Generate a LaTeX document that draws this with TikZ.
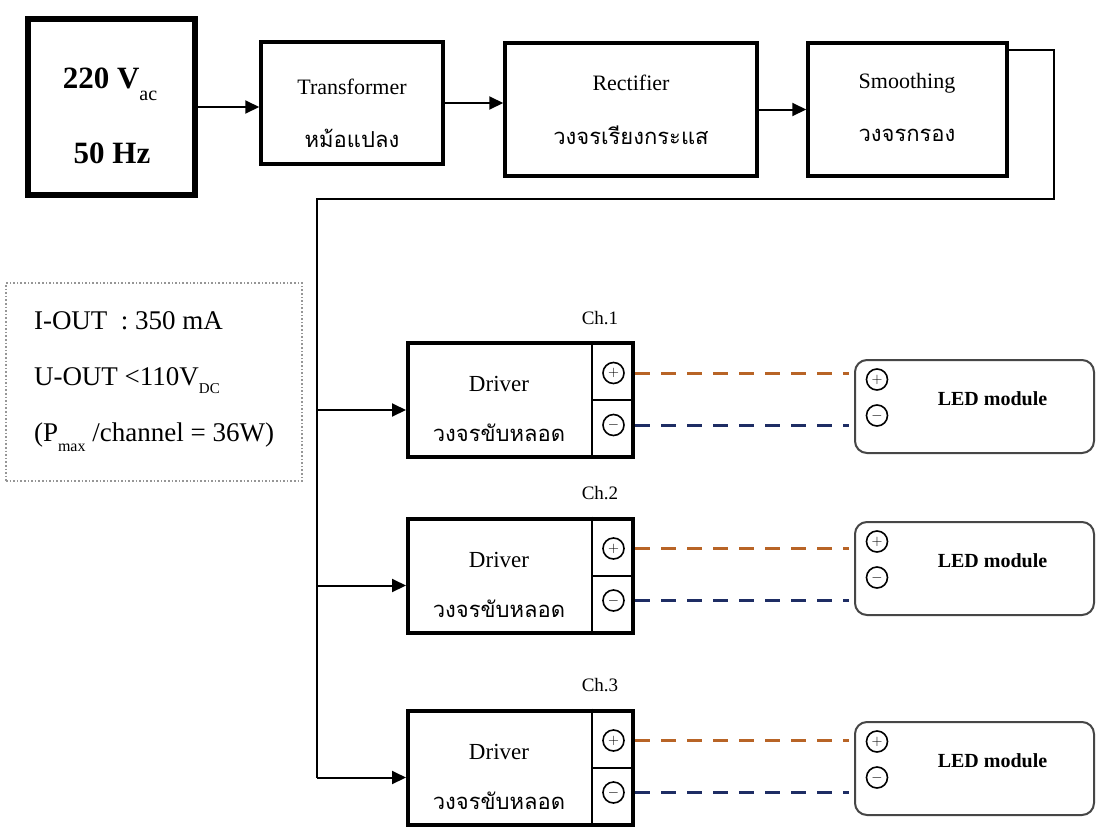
\documentclass[tikz,border=0pt]{standalone}
\usepackage{fontspec}
\setmainfont{Liberation Serif}
\newfontfamily\thaifont[Script=Thai]{Loma}
\usetikzlibrary{arrows.meta,positioning,calc}
\definecolor{poswire}{RGB}{184,100,38}
\definecolor{negwire}{RGB}{30,45,100}
\definecolor{infogray}{RGB}{150,150,150}
\definecolor{ledgray}{RGB}{70,70,70}

\newcommand\srcfont{\fontsize{31}{37}\selectfont\bfseries}
\newcommand\capfont{\fontsize{22}{26}\selectfont}
\newcommand\drvfont{\fontsize{23}{27}\selectfont}
\newcommand\thfont{\thaifont\fontsize{22}{28}\selectfont}
\newcommand\infofont{\fontsize{27}{56}\selectfont}
\newcommand\chfont{\fontsize{19}{22}\selectfont}
\newcommand\ledfont{\fontsize{20}{24}\selectfont\bfseries}
% lowered small index: size, drop, text
\newcommand\lowsub[3]{\raisebox{-#2pt}{\fontsize{#1}{#1}\selectfont\mdseries #3}}

\tikzset{
  srcbox/.style   = {draw, line width=6.5pt, minimum width=167pt, minimum height=176pt},
  stagebox/.style = {draw, line width=3.5pt, inner sep=0pt},
  drvbox/.style   = {draw, line width=4pt, minimum width=225pt, minimum height=114pt},
  ledbox/.style   = {draw=ledgray, line width=2pt, rounded corners=12pt,
                     minimum width=239pt, minimum height=93pt},
  infobox/.style  = {draw=infogray, dotted, line width=1.6pt, minimum width=296pt,
                     minimum height=198pt, align=left},
  pmcirc/.style   = {circle, draw, line width=1.6pt, minimum size=21pt, inner sep=0pt,
                     font=\fontsize{15}{15}\selectfont},
  txt/.style      = {inner sep=0pt},
  flow/.style     = {line width=2pt, -{Triangle[length=14pt,width=13pt]}},
  wire/.style     = {line width=2pt},
  posline/.style  = {draw=poswire, line width=3pt, dash pattern=on 15pt off 11pt,
                     shorten >=5pt},
  negline/.style  = {draw=negwire, line width=3pt, dash pattern=on 15pt off 11pt,
                     shorten >=5pt}
}

\begin{document}
\begin{tikzpicture}[x=1pt, y=-1pt]
  \fill[white] (0,0) rectangle (1097,833);
  \useasboundingbox (0,0) rectangle (1097,833);

  % supply chain
  \node[srcbox] (src) at (111.5,107) {};
  \node[txt, font=\srcfont, anchor=base] (srcV) at (110,88) {220 V\lowsub{20}{12}{ac}};
  \node[txt, font=\srcfont] (srcHz) at (112,153) {50 Hz};

  \node[stagebox, minimum width=182pt, minimum height=122pt] (trans) at (352,103) {};
  \node[txt, font=\capfont] (transEn) at (352,87) {Transformer};
  \node[txt, font=\thfont] (transTh) at (352,138) {หม้อแปลง};

  \node[stagebox, minimum width=252pt, minimum height=133pt] (rect) at (631,109.5) {};
  \node[txt, font=\capfont] (rectEn) at (631,83) {Rectifier};
  \node[txt, font=\thfont] (rectTh) at (631,135) {วงจรเรียงกระแส};

  \node[stagebox, minimum width=199pt, minimum height=133pt] (smooth) at (907.5,109.5) {};
  \node[txt, font=\capfont] (smoothEn) at (907,83) {Smoothing};
  \node[txt, font=\thfont] (smoothTh) at (907,135) {วงจรกรอง};

  \draw[flow] (src.east) -- (src.east -| trans.west);
  \draw[flow] (trans.east) -- (trans.east -| rect.west);
  \draw[flow] (rect.east) -- (rect.east -| smooth.west);

  % ratings
  \node[infobox, font=\infofont] (info) at (154,382)
    {I-OUT\ \ : 350 mA\\U-OUT <110V\lowsub{15}{8}{DC}\\(P\lowsub{16}{10}{max} /channel = 36W)};

  \coordinate (bus) at (317,199);

  % channels
  \foreach \n/\dy/\ly in {1/400/406.5, 2/575.5/568.5, 3/767.5/768.5} {
    \node[drvbox] (drv\n) at (520.5,\dy) {};
    \draw[line width=2pt] ([xshift=-43pt]drv\n.north east) -- ([xshift=-43pt]drv\n.south east);
    \draw[line width=2pt] ([xshift=-43pt]drv\n.east) -- (drv\n.east);
    \node[txt, font=\chfont] (ch\n) at ([xshift=-35pt,yshift=23pt]drv\n.north east) {Ch.\n};
    \node[txt, font=\drvfont] (drvEn\n) at ([xshift=-21.5pt,yshift=16pt]drv\n.center) {Driver};
    \node[txt, font=\thfont] (drvTh\n) at ([xshift=-21.5pt,yshift=-33pt]drv\n.center) {วงจรขับหลอด};
    \node[pmcirc] (pl\n) at ([xshift=-21.5pt,yshift=27pt]drv\n.east) {$+$};
    \node[pmcirc] (mi\n) at ([xshift=-21.5pt,yshift=-25pt]drv\n.east) {$-$};

    \node[ledbox] (led\n) at (974.5,\ly) {};
    \node[pmcirc] (lp\n) at ([xshift=23pt,yshift=27pt]led\n.west) {$+$};
    \node[pmcirc] (lm\n) at ([xshift=23pt,yshift=-9pt]led\n.west) {$-$};
    \node[txt, font=\ledfont] (ledTxt\n) at ([xshift=18pt,yshift=8pt]led\n.center) {LED module};

    \draw[posline] (drv\n.east |- pl\n) -- (led\n.west |- pl\n);
    \draw[negline] (drv\n.east |- mi\n) -- (led\n.west |- mi\n);

    \coordinate (in\n) at ([yshift=-10pt]drv\n.west);
    \draw[flow] (bus |- in\n) -- (in\n);
  }

  \draw[wire] ([yshift=-9pt]smooth.north east) -- ++(45,0) |- (bus) -- (bus |- in3);
\end{tikzpicture}
\end{document}
